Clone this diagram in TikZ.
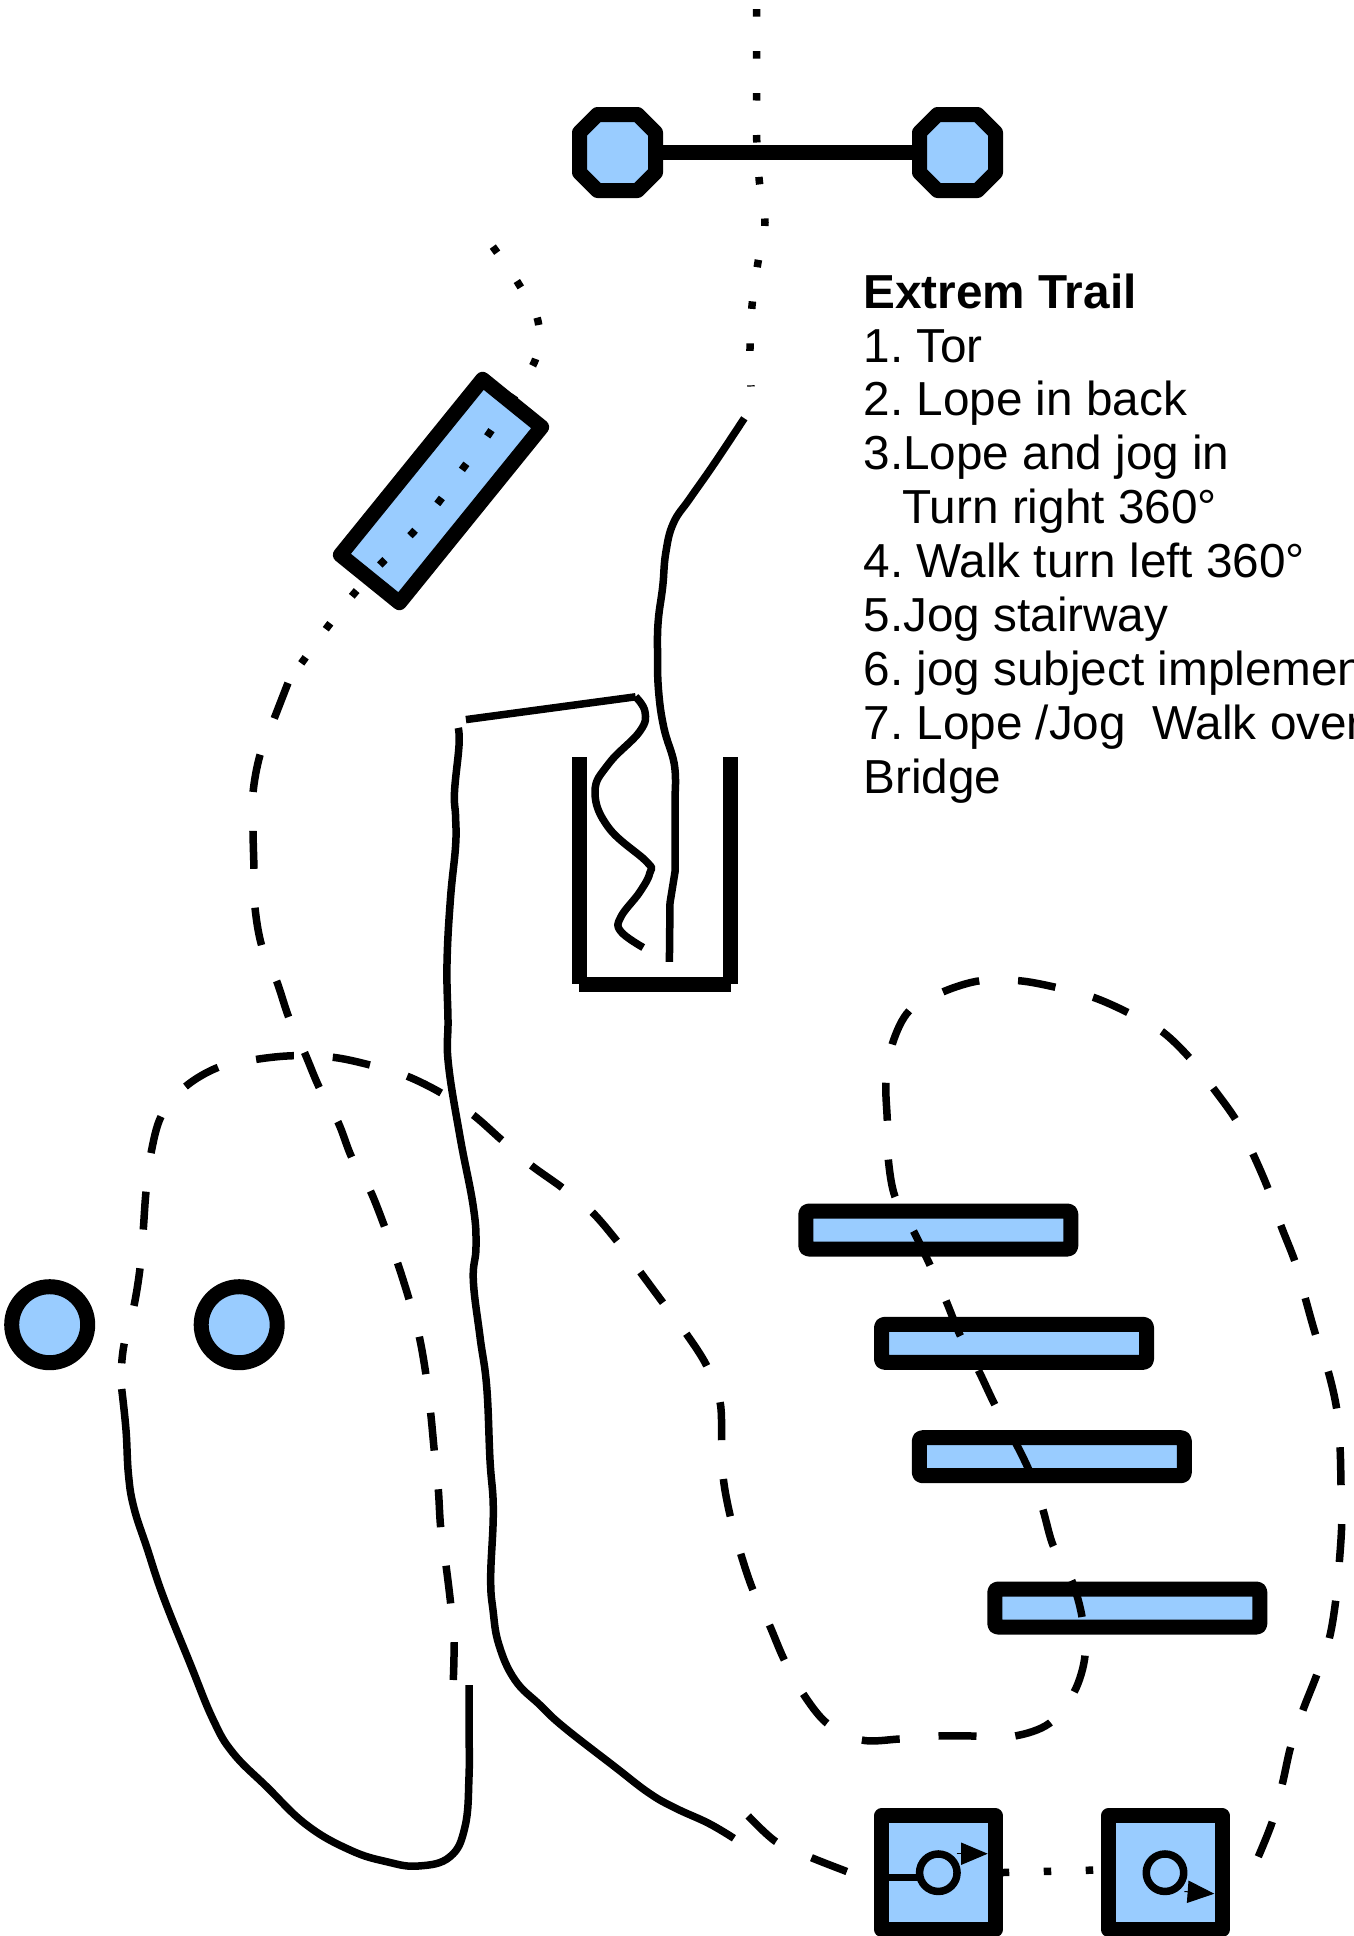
\documentclass[tikz,border=0pt]{standalone}
\usepackage{fontspec}
\setmainfont{Liberation Sans}
\usetikzlibrary{arrows.meta}
\definecolor{paleblue}{HTML}{99CCFF}
\tikzset{
  x=1pt,y=-1pt,
  blockbase/.style={draw=black,fill=paleblue,line width=15pt,inner sep=0pt,outer sep=0pt,line join=round},
  gatehub/.style={rectangle,inner sep=0pt,outer sep=0pt,minimum width=76pt,minimum height=76pt},
  slab/.style={blockbase,rectangle,minimum width=226pt,minimum height=76pt},
  stairbar/.style={blockbase,rectangle,rounded corners=3pt,minimum width=265pt,minimum height=38pt},
  drum/.style={blockbase,circle,minimum size=76pt},
  cube/.style={blockbase,rectangle,minimum width=113.7pt,minimum height=113.7pt},
  ring/.style={blockbase,circle,line width=7.5pt,minimum size=37.5pt},
  beam/.style={line width=15pt},
  trail/.style={line width=7.5pt},
  walkline/.style={trail,dash pattern=on 7.5pt off 34.5pt},
  jogline/.style={trail,dash pattern=on 38pt off 38.9pt},
  curve/.style={smooth,tension=0.55},
  softcurve/.style={smooth,tension=0.7},
  tick/.style={line width=1pt,-{Triangle[length=26.7pt,width=22.3pt]}},
  legend/.style={inner sep=0pt,outer sep=0pt,anchor=north west,align=left,font=\fontsize{47.7}{53.9}\selectfont}
}
\newcommand{\octagonat}[1]{\draw[blockbase,shift={(#1)}] (-20,-38) -- (20,-38) -- (38,-20) -- (38,20) -- (20,38) -- (-20,38) -- (-38,20) -- (-38,-20) -- cycle;}
\frenchspacing
\begin{document}
\begin{tikzpicture}
\useasboundingbox (0,0) rectangle (1353,1936);
% obstacles
\node[gatehub] (gateL) at (617.5,152.5) {};
\node[gatehub] (gateR) at (957.5,152.5) {};
\octagonat{gateL}
\octagonat{gateR}
\draw[beam] (gateL) -- (gateR);
\node[slab,rotate=51] (back) at (441,491) {};
\node[drum] (drumL) at (49.7,1324.7) {};
\node[drum] (drumR) at (239.2,1324.7) {};
\node[stairbar] (barA) at (938.3,1230) {};
\node[stairbar] (barB) at (1014,1343.3) {};
\node[stairbar] (barC) at (1051.8,1456.7) {};
\node[stairbar] (barD) at (1127.3,1608) {};
\node[cube] (boxA) at (938.5,1872.7) {};
\node[cube] (boxB) at (1165.2,1872.7) {};
\node[ring] (ringA) at (938.3,1872.7) {};
\node[ring] (ringB) at (1165,1872.7) {};
\draw[trail] ([yshift=-5pt]boxA.west) -- ([yshift=-5pt]ringA.west);
\coordinate (tickAs) at (956.7,1853.7);
\coordinate (tickAe) at (987.7,1853.7);
\coordinate (tickBs) at (1184.3,1891.5);
\coordinate (tickBe) at (1214.3,1893.7);
\draw[tick] (tickAs) -- (tickAe);
\draw[tick] (tickBs) -- (tickBe);
% chute
\draw[beam] (579,757) -- (579,984) (579,984.3) -- (730.5,984.3) (730.5,984) -- (730.5,757);
% dotted walk
\draw[walkline,dash phase=33pt] plot[curve] coordinates {(756.7,0) (756.7,12.7) (756.7,55) (756.7,97) (756.7,139.3) (759.3,181) (765,222.7) (757.7,264) (752,305.7) (750,347.7) (751,386.5)};
\draw[walkline] plot[curve] coordinates {(492.8,246.6) (518.7,284) (538,321) (534.3,362.3) (489.3,433.3) (464,467) (439.3,501.3) (412.3,533.3) (382,562.7) (353.7,594) (327.7,626.7) (302.7,661.4) (300,665)};
\draw[walkline,dash phase=35.6pt] (boxA.east) -- ([yshift=3pt]boxB.west);
% dashed jog
\draw[jogline] plot[curve] coordinates {(288,683) (274,719) (260,755) (253,793) (253,831.4) (254,869) (255,907.5) (261.7,945.7) (276.8,981.4) (289,1018) (304.7,1052.9) (319.5,1088) (338.3,1122.7) (351.7,1157.3) (370,1190) (385,1227.7) (397.7,1263.3) (409.3,1300) (419.3,1336.7) (426,1375) (430.7,1413.3) (434.3,1451) (438.3,1489.3) (440.7,1527.7) (446,1565.3) (450.7,1604) (454,1642) (453.3,1680)};
\draw[jogline,dash phase=18pt] plot[curve] coordinates {(121.7,1363.3) (124.3,1343.3) (134,1305.7) (140,1268.3) (143.3,1229.3) (146,1191.7) (151,1153.3) (161.3,1116) (185.3,1086.7) (218.3,1067.3) (256.7,1059.3) (293.3,1055.7) (333.3,1057.3) (370,1065) (406.7,1076) (441.7,1093.3) (473.3,1115) (501.7,1140) (530.7,1165) (561.7,1187.3) (591.7,1211.7) (616.7,1240.7) (640,1271.7) (662.7,1302.3) (686,1333.3) (706.7,1365.7) (720,1401.7) (721.7,1439.3) (723.3,1478.3) (730,1515) (740.4,1552.7) (752.7,1589.3) (769,1624) (784,1659.3) (802.4,1692.7) (827,1723.3) (861.6,1740) (899.2,1739) (938,1736) (976,1736) (1014.7,1736) (1049.4,1723.3) (1074,1692.3) (1085,1655.7) (1082,1616.7) (1071.8,1580.7) (1053.3,1546) (1042.7,1509) (1030,1472.5) (1013,1437.7) (995,1405) (978.3,1370) (960,1335) (946,1300.7) (930,1265) (913.3,1230.7) (895,1196.7) (888.3,1159.3) (887.3,1120.7) (886,1082.3) (892.3,1044) (909.3,1010.7) (943.3,991.7) (980,980.7) (1019,980.7) (1055.7,987.3) (1093.3,997.3) (1128.3,1012.7) (1162.3,1031.7) (1190,1058.3) (1213.3,1088.3) (1236,1120) (1252.7,1153.3) (1268.3,1189.3) (1280.7,1225) (1295,1261.7) (1305,1297.3) (1315.7,1335) (1328.3,1371.7) (1336.7,1409) (1340,1446.7) (1341,1485) (1341.7,1524) (1339.3,1562.3) (1335.7,1600.7) (1329.3,1638.3) (1316.7,1675) (1302.7,1710.7) (1290.7,1746.7) (1282.3,1784) (1272.3,1821.7) (1258.3,1856.7)};
\draw[jogline,dash phase=39.7pt] plot[curve] coordinates {(881.5,1885) (847.3,1871.7) (810.6,1857.3) (776,1841.7) (747.3,1815)};
% solid lope
\draw[trail] plot[softcurve] coordinates {(469,1685) (469,1726.7) (469,1776.7) (465,1826.7) (450,1856.7) (418.3,1866) (386.7,1861.7) (350,1850) (306.7,1825) (266.7,1786.7) (233.3,1753.3) (213.3,1720) (190,1663.3) (163.3,1596.7) (147,1548) (134,1508) (128.5,1475) (126,1430) (121.7,1389)};
\draw[trail] plot[softcurve] coordinates {(458.3,727.9) (459,745.7) (454.5,792) (455.6,817) (455.6,845.7) (450.4,899.3) (447,963.6) (448,1020) (448.3,1063) (460,1136.7) (473.3,1206.7) (476,1246.7) (473.3,1280) (480,1336.7) (486.7,1386.7) (490,1460) (493.3,1510) (490.7,1576.7) (493,1610) (499,1645) (515,1680) (540,1705) (563.3,1726.7) (614.7,1766.7) (649.4,1793.3) (675.9,1808.3) (708.6,1823.3) (733.9,1838.3)};
\draw[trail,line join=round] (465.9,719.6) -- (635.6,696.8) plot[softcurve] coordinates {(635.6,696.8) (645,711.8) (639.8,731.4) (608.8,763.6) (595,792) (608.8,827.9) (646.7,861.8) (650,872.5) (639.8,892) (620.8,917) (620.8,931.4) (643.2,947.5)};
\draw[trail] plot[softcurve] coordinates {(744.3,418.3) (713.3,465) (690,498.3) (673.3,523.3) (665.7,553.3) (662.7,586.7) (658.3,620) (657.5,650) (658.5,690) (663.9,727.9) (674.2,763.6) (675.2,792)} -- (675.2,870.7) -- (670,902.9) -- (669.4,961.8);
% legend
\node[legend] (title) at (863.5,273.6) {\textbf{Extrem Trail}\\1. Tor\\2. Lope in back\\3.Lope and jog in\\\hspace*{39pt}Turn right 360°\\4. Walk turn left 360°\\5.Jog stairway\\6. jog subject implemen\\7. Lope /Jog\ \ Walk over\\Bridge};
\end{tikzpicture}
\end{document}
